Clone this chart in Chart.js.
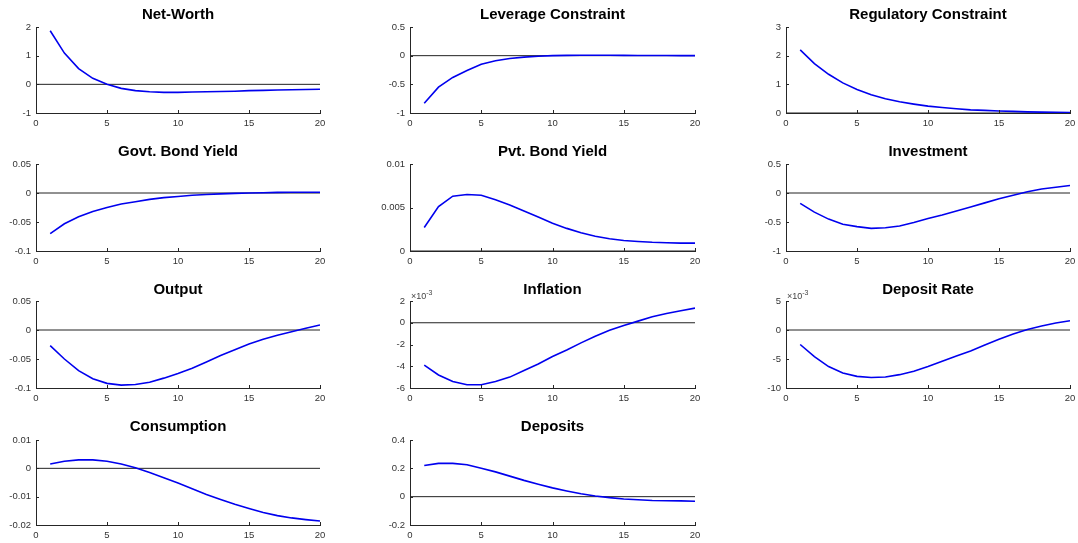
<!DOCTYPE html>
<html>
<head>
<meta charset="utf-8">
<script src="https://cdn.jsdelivr.net/npm/chart.js@4"></script>
<style>
  body { margin: 0; background: #fff; width: 1078px; height: 543px; position: relative; overflow: hidden; }
  canvas { position: absolute; }
  .ttl { position: absolute; text-align: center; font: bold 15px "Liberation Sans", Arial, sans-serif; color: #000; line-height: 18px; }
  .exp { position: absolute; font: 9px "Liberation Sans", Arial, sans-serif; color: #444; }
  .exp sup { font-size: 7px; }
</style>
</head>
<body>
<script>
// horizons
const steps = [1, 2, 3, 4, 5, 6, 7, 8, 9, 10, 11, 12, 13, 14, 15, 16, 17, 18, 19, 20];
const xTicks = [0, 5, 10, 15, 20];
const zeroX = [0, 20];

// responses
const netWorth = [1.87, 1.09, 0.55, 0.21, 0.0, -0.14, -0.22, -0.26, -0.28, -0.28, -0.27, -0.26, -0.25, -0.24, -0.22, -0.21, -0.2, -0.19, -0.18, -0.17];
const leverage = [-0.83, -0.55, -0.38, -0.26, -0.15, -0.09, -0.05, -0.025, -0.01, 0.0, 0.005, 0.007, 0.007, 0.006, 0.005, 0.004, 0.003, 0.002, 0.001, 0.001];
const regulatory = [2.2, 1.72, 1.35, 1.05, 0.82, 0.64, 0.5, 0.39, 0.31, 0.24, 0.19, 0.15, 0.11, 0.09, 0.07, 0.055, 0.04, 0.03, 0.025, 0.02];
const govtYield = [-0.07, -0.053, -0.041, -0.032, -0.025, -0.019, -0.015, -0.011, -0.008, -0.006, -0.004, -0.0025, -0.0015, -0.0007, 0.0, 0.0005, 0.001, 0.0012, 0.0013, 0.0013];
const pvtYield = [0.0027, 0.0051, 0.0063, 0.0065, 0.0064, 0.0059, 0.0053, 0.0046, 0.0039, 0.0032, 0.0026, 0.0021, 0.0017, 0.0014, 0.0012, 0.0011, 0.001, 0.00095, 0.0009, 0.0009];
const investment = [-0.18, -0.33, -0.45, -0.54, -0.58, -0.61, -0.6, -0.57, -0.51, -0.44, -0.38, -0.31, -0.24, -0.17, -0.1, -0.04, 0.02, 0.07, 0.1, 0.13];
const output = [-0.027, -0.05, -0.07, -0.084, -0.092, -0.095, -0.094, -0.09, -0.083, -0.075, -0.066, -0.055, -0.044, -0.034, -0.024, -0.016, -0.009, -0.003, 0.003, 0.0086];
const inflation = [-0.0039, -0.0048, -0.0054, -0.0057, -0.0057, -0.0054, -0.005, -0.0044, -0.0038, -0.0031, -0.0025, -0.00185, -0.00125, -0.0007, -0.00025, 0.00015, 0.00055, 0.00085, 0.0011, 0.00135];
const depositRate = [-0.0025, -0.0046, -0.0063, -0.0074, -0.008, -0.0082, -0.0081, -0.0077, -0.0071, -0.0063, -0.0054, -0.0045, -0.0036, -0.0026, -0.0016, -0.0007, 0.0001, 0.0007, 0.0012, 0.0016];
const consumption = [0.0015, 0.0025, 0.003, 0.003, 0.0025, 0.0015, 0.0002, -0.0015, -0.0033, -0.0052, -0.0072, -0.0092, -0.011, -0.0127, -0.0142, -0.0156, -0.0167, -0.0175, -0.0181, -0.0186];
const deposits = [0.22, 0.235, 0.235, 0.225, 0.2, 0.175, 0.145, 0.115, 0.088, 0.062, 0.04, 0.02, 0.005, -0.007, -0.016, -0.022, -0.027, -0.029, -0.03, -0.032];

// y ticks and their labels
const ticksA = [-1, 0, 1, 2],            labelsA = ['-1', '0', '1', '2'];
const ticksB = [-1, -0.5, 0, 0.5],       labelsB = ['-1', '-0.5', '0', '0.5'];
const ticksC = [0, 1, 2, 3],             labelsC = ['0', '1', '2', '3'];
const ticksD = [-0.1, -0.05, 0, 0.05],   labelsD = ['-0.1', '-0.05', '0', '0.05'];
const ticksE = [0, 0.005, 0.01],         labelsE = ['0', '0.005', '0.01'];
const ticksF = [-0.006, -0.004, -0.002, 0, 0.002], labelsF = ['-6', '-4', '-2', '0', '2'];
const ticksG = [-0.01, -0.005, 0, 0.005], labelsG = ['-10', '-5', '0', '5'];
const ticksH = [-0.02, -0.01, 0, 0.01],  labelsH = ['-0.02', '-0.01', '0', '0.01'];
const ticksI = [-0.2, 0, 0.2, 0.4],      labelsI = ['-0.2', '0', '0.2', '0.4'];

// grid layout (axes boxes in page pixels)
const cols = [[36, 320], [410, 695], [786, 1070]];
const rows = [[27, 113], [164, 251], [301, 388], [440, 525]];
const titleMid = [14, 151, 289, 426];

const panels = [
  { title: 'Net-Worth', y: netWorth, ticks: ticksA, labels: labelsA, r: 0, c: 0 },
  { title: 'Leverage Constraint', y: leverage, ticks: ticksB, labels: labelsB, r: 0, c: 1 },
  { title: 'Regulatory Constraint', y: regulatory, ticks: ticksC, labels: labelsC, r: 0, c: 2 },
  { title: 'Govt. Bond Yield', y: govtYield, ticks: ticksD, labels: labelsD, r: 1, c: 0 },
  { title: 'Pvt. Bond Yield', y: pvtYield, ticks: ticksE, labels: labelsE, r: 1, c: 1 },
  { title: 'Investment', y: investment, ticks: ticksB, labels: labelsB, r: 1, c: 2 },
  { title: 'Output', y: output, ticks: ticksD, labels: labelsD, r: 2, c: 0 },
  { title: 'Inflation', y: inflation, ticks: ticksF, labels: labelsF, r: 2, c: 1, exp: true },
  { title: 'Deposit Rate', y: depositRate, ticks: ticksG, labels: labelsG, r: 2, c: 2, exp: true },
  { title: 'Consumption', y: consumption, ticks: ticksH, labels: labelsH, r: 3, c: 0 },
  { title: 'Deposits', y: deposits, ticks: ticksI, labels: labelsI, r: 3, c: 1 }
];

const AXIS = '#262626';
const FONT = { family: '"Liberation Sans", Arial, sans-serif', size: 9.5 };
const PADL = 45, PADT = 8, PADR = 8, PADB = 22;

// small inward tick marks, matlab style
const inTicks = {
  id: 'inTicks',
  afterDraw(chart) {
    const ctx = chart.ctx, xs = chart.scales.x, ys = chart.scales.y;
    ctx.save();
    ctx.strokeStyle = AXIS;
    ctx.lineWidth = 1;
    ctx.beginPath();
    xs.ticks.forEach(t => {
      const px = Math.round(xs.getPixelForValue(t.value)) + 0.5;
      ctx.moveTo(px, ys.bottom);
      ctx.lineTo(px, ys.bottom - 3);
    });
    ys.ticks.forEach(t => {
      const py = Math.round(ys.getPixelForValue(t.value)) + 0.5;
      ctx.moveTo(xs.left, py);
      ctx.lineTo(xs.left + 3, py);
    });
    ctx.stroke();
    ctx.restore();
  }
};

panels.forEach(p => {
  const [L, R] = cols[p.c];
  const [T, B] = rows[p.r];

  const cv = document.createElement('canvas');
  const w = R - L + PADL + PADR, h = B - T + PADT + PADB;
  cv.width = w; cv.height = h;
  cv.style.left = (L - PADL) + 'px';
  cv.style.top = (T - PADT) + 'px';
  cv.style.width = w + 'px';
  cv.style.height = h + 'px';
  document.body.appendChild(cv);

  const ttl = document.createElement('div');
  ttl.className = 'ttl';
  ttl.textContent = p.title;
  ttl.style.left = L + 'px';
  ttl.style.width = (R - L) + 'px';
  ttl.style.top = (titleMid[p.r] - 9) + 'px';
  document.body.appendChild(ttl);

  if (p.exp) {
    const ex = document.createElement('div');
    ex.className = 'exp';
    ex.innerHTML = '\u00d710<sup>-3</sup>';
    ex.style.left = (L + 1) + 'px';
    ex.style.top = (T - 12) + 'px';
    document.body.appendChild(ex);
  }

  new Chart(cv, {
    type: 'line',
    data: {
      datasets: [
        {
          data: steps.map((x, i) => ({ x: x, y: p.y[i] })),
          borderColor: '#0000ee',
          borderWidth: 1.6,
          pointRadius: 0,
          tension: 0,
          order: 0
        },
        {
          data: zeroX.map(x => ({ x: x, y: 0 })),
          borderColor: '#222',
          borderWidth: 1,
          pointRadius: 0,
          order: 1
        }
      ]
    },
    options: {
      responsive: false,
      animation: false,
      devicePixelRatio: 1,
      layout: { padding: { left: 0, top: PADT, right: PADR, bottom: 0 } },
      plugins: { legend: { display: false }, tooltip: { enabled: false } },
      scales: {
        x: {
          type: 'linear',
          min: 0, max: 20,
          grid: { display: false, drawTicks: false },
          border: { display: true, color: AXIS, width: 1 },
          afterBuildTicks: s => { s.ticks = xTicks.map(v => ({ value: v })); },
          afterFit: s => { s.height = PADB; s.paddingLeft = 0; s.paddingRight = 0; },
          ticks: { autoSkip: false, maxRotation: 0, padding: 5, color: '#333', font: FONT }
        },
        y: {
          min: p.ticks[0], max: p.ticks[p.ticks.length - 1],
          grid: { display: false, drawTicks: false },
          border: { display: true, color: AXIS, width: 1 },
          afterBuildTicks: s => { s.ticks = p.ticks.map(v => ({ value: v })); },
          afterFit: s => { s.width = PADL; s.paddingTop = 0; s.paddingBottom = 0; },
          ticks: { autoSkip: false, padding: 5, color: '#333', font: FONT,
                   callback: (v, i) => p.labels[i] }
        }
      }
    },
    plugins: [inTicks]
  });
});
</script>
</body>
</html>
